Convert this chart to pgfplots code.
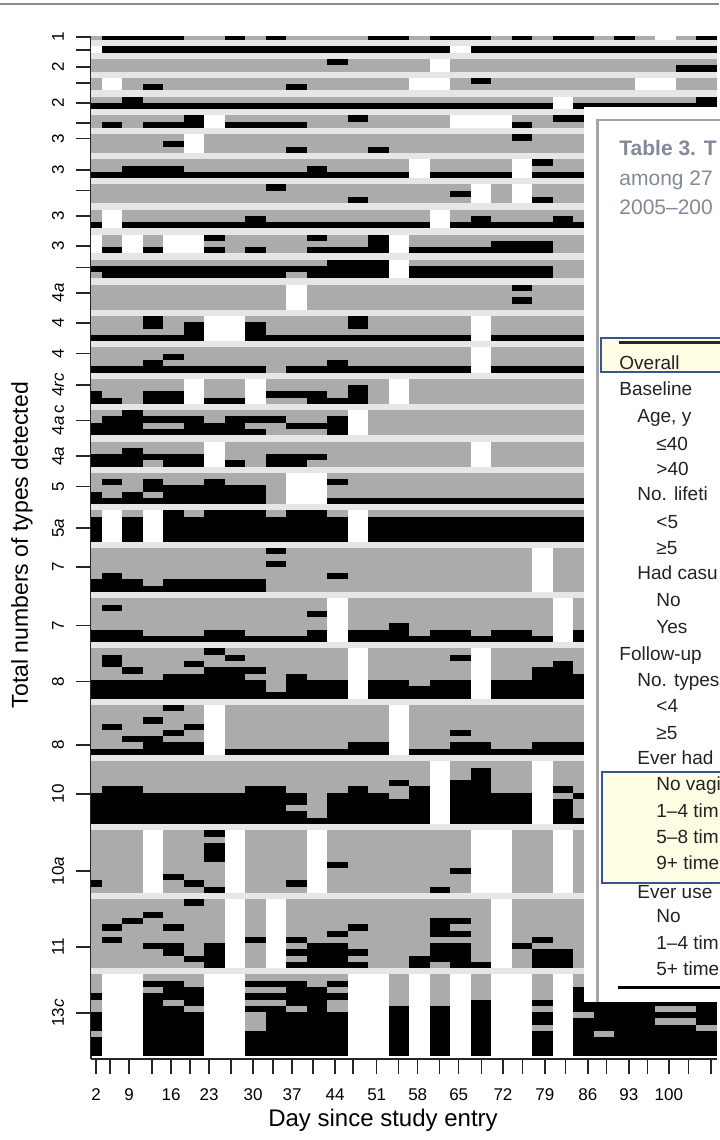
\documentclass[border=0pt]{standalone}
\usepackage{fontspec}
\setmainfont{Liberation Sans}
\usepackage{pgfplots}
\usepackage{pgfplotstable}
\pgfplotsset{compat=1.18}
\definecolor{cgray}{RGB}{171,171,171}
\definecolor{csep}{RGB}{230,230,230}
\definecolor{ttl}{RGB}{128,138,152}
\definecolor{txt}{RGB}{35,35,35}
\definecolor{hl}{RGB}{255,253,228}
\definecolor{hlb}{RGB}{55,85,145}
\definecolor{frm}{RGB}{165,165,165}
\definecolor{topl}{RGB}{140,140,140}
\pgfdeclareplotmark{cell}{\pgfpathrectangle{\pgfqpoint{-5.2pt}{-1.6pt}}{\pgfqpoint{10.4pt}{3.2pt}}\pgfusepathqfill}
% 0 = not tested (white), 1 = negative (gray), 2 = positive (black), 3 = separator
\pgfplotstableread[header=false]{
1 2 2 2 2  1 1 2 1 2  1 1 1 1 2  2 1 2 2 2  1 2 1 2 2  1 2 1 0 1  2
3 3 3 3 3  3 3 3 3 3  3 3 3 3 3  3 3 3 3 3  3 3 3 3 3  3 3 3 3 3  3
0 2 2 2 2  2 2 2 2 2  2 2 2 2 2  2 2 2 0 2  2 2 2 2 2  2 2 2 2 2  2
3 3 3 3 3  3 3 3 3 3  3 3 3 3 3  3 3 3 3 3  3 3 3 3 3  3 3 3 3 3  3
1 1 1 1 1  1 1 1 1 1  1 1 2 1 1  1 1 0 1 1  1 1 1 1 1  1 1 1 1 1  1
1 1 1 1 1  1 1 1 1 1  1 1 1 1 1  1 1 0 1 1  1 1 1 1 1  1 1 1 1 2  2
3 3 3 3 3  3 3 3 3 3  3 3 3 3 3  3 3 3 3 3  3 3 3 3 3  3 3 3 3 3  3
1 0 1 1 1  1 1 1 1 1  1 1 1 1 1  1 0 0 1 2  1 1 1 1 1  1 1 0 0 1  1
1 0 1 2 1  1 1 1 1 1  2 1 1 1 1  1 0 0 1 1  1 1 1 1 1  1 1 0 0 1  1
3 3 3 3 3  3 3 3 3 3  3 3 3 3 3  3 3 3 3 3  3 3 3 3 3  3 3 3 3 3  3
1 1 2 1 1  1 1 1 1 1  1 1 1 1 1  1 1 1 1 1  1 1 1 0 1  1 1 1 1 1  2
2 2 2 2 2  2 2 2 2 2  2 2 2 2 2  2 2 2 2 2  2 2 2 0 2  2 2 2 2 2  2
3 3 3 3 3  3 3 3 3 3  3 3 3 3 3  3 3 3 3 3  3 3 3 3 3  3 3 3 3 3  3
1 1 1 1 1  2 0 1 1 1  1 1 1 2 1  1 1 1 0 0  0 1 1 2 2  1 1 1 1 1  1
1 2 1 2 2  2 0 2 2 2  2 1 1 1 1  1 1 1 0 0  0 2 1 1 1  1 1 1 1 1  1
3 3 3 3 3  3 3 3 3 3  3 3 3 3 3  3 3 3 3 3  3 3 3 3 3  3 3 3 3 3  3
1 1 1 1 1  0 1 1 1 1  1 1 1 1 1  1 1 1 1 1  1 2 1 1 1  1 1 1 1 1  1
1 1 1 1 2  0 1 1 1 1  1 1 1 1 1  1 1 1 1 1  1 1 1 1 1  1 1 1 1 1  1
1 1 1 1 1  0 1 1 1 1  2 1 1 1 2  1 1 1 1 1  1 1 1 1 1  1 1 1 1 1  1
3 3 3 3 3  3 3 3 3 3  3 3 3 3 3  3 3 3 3 3  3 3 3 3 3  3 3 3 3 3  3
1 1 1 1 1  1 1 1 1 1  1 1 1 1 1  1 0 1 1 1  1 0 2 1 1  1 1 1 1 1  1
1 1 2 2 2  1 1 1 1 1  1 2 1 1 1  1 0 1 1 1  1 0 1 1 1  1 1 1 1 1  1
2 2 2 2 2  2 2 2 2 2  2 2 2 2 2  2 0 2 2 2  2 0 2 2 2  1 1 1 1 1  1
3 3 3 3 3  3 3 3 3 3  3 3 3 3 3  3 3 3 3 3  3 3 3 3 3  3 3 3 3 3  3
1 1 1 1 1  1 1 1 1 2  1 1 1 1 1  1 1 1 1 0  1 0 1 1 1  1 1 1 1 1  1
1 1 1 1 1  1 1 1 1 1  1 1 1 1 1  1 1 1 2 0  1 0 1 1 1  1 1 1 1 1  1
1 1 1 1 1  1 1 1 1 1  1 1 1 2 1  1 1 1 1 0  1 0 2 1 1  1 1 1 1 1  1
3 3 3 3 3  3 3 3 3 3  3 3 3 3 3  3 3 3 3 3  3 3 3 3 3  3 3 3 3 3  3
1 0 1 1 1  1 1 1 1 1  1 1 1 1 1  1 1 0 1 1  1 1 1 1 1  1 1 1 1 1  1
1 0 1 1 1  1 1 1 2 1  1 1 1 1 1  1 1 0 1 2  1 1 1 2 1  1 1 1 1 1  1
2 0 2 2 2  2 2 2 2 2  2 2 2 2 2  2 2 0 2 2  2 2 2 2 2  1 1 1 1 1  1
3 3 3 3 3  3 3 3 3 3  3 3 3 3 3  3 3 3 3 3  3 3 3 3 3  3 3 3 3 3  3
0 1 0 1 0  0 2 1 1 1  1 2 1 1 2  0 1 1 1 1  1 1 1 1 1  1 1 1 1 1  1
0 1 0 1 0  0 1 1 1 1  1 1 1 1 2  0 1 1 1 1  2 2 2 1 1  1 1 1 1 1  1
0 2 0 2 0  0 2 1 2 1  1 2 2 2 2  0 2 2 2 2  2 2 2 1 1  1 1 1 1 1  1
3 3 3 3 3  3 3 3 3 3  3 3 3 3 3  3 3 3 3 3  3 3 3 3 3  3 3 3 3 3  3
1 1 1 1 1  1 1 1 1 1  1 1 2 2 2  0 1 1 1 1  1 1 1 1 1  1 1 1 1 1  1
2 2 2 2 2  2 2 2 2 2  2 2 2 2 2  0 2 2 2 2  2 2 2 1 1  1 1 1 1 1  1
1 2 2 2 2  2 2 2 2 2  1 2 2 2 2  0 2 2 2 2  2 2 2 1 1  1 1 1 1 1  1
3 3 3 3 3  3 3 3 3 3  3 3 3 3 3  3 3 3 3 3  3 3 3 3 3  3 3 3 3 3  3
1 1 1 1 1  1 1 1 1 1  0 1 1 1 1  1 1 1 1 1  1 2 1 1 1  1 1 1 1 1  1
1 1 1 1 1  1 1 1 1 1  0 1 1 1 1  1 1 1 1 1  1 1 1 1 1  1 1 1 1 1  1
1 1 1 1 1  1 1 1 1 1  0 1 1 1 1  1 1 1 1 1  1 2 1 1 1  1 1 1 1 1  1
1 1 1 1 1  1 1 1 1 1  0 1 1 1 1  1 1 1 1 1  1 1 1 1 1  1 1 1 1 1  1
3 3 3 3 3  3 3 3 3 3  3 3 3 3 3  3 3 3 3 3  3 3 3 3 3  3 3 3 3 3  3
1 1 1 2 1  1 0 0 1 1  1 1 1 2 1  1 1 1 1 0  1 1 1 1 1  1 1 1 1 1  1
1 1 1 2 1  2 0 0 2 1  1 1 1 2 1  1 1 1 1 0  1 1 1 1 1  1 1 1 1 1  1
1 1 1 1 1  2 0 0 2 1  1 1 1 1 1  1 1 1 1 0  1 1 1 1 1  1 1 1 1 1  1
2 2 2 2 2  2 0 0 2 2  2 2 2 2 2  2 2 2 2 0  2 2 2 2 2  1 1 1 1 1  1
3 3 3 3 3  3 3 3 3 3  3 3 3 3 3  3 3 3 3 3  3 3 3 3 3  3 3 3 3 3  3
1 1 1 1 1  1 1 1 1 1  1 1 1 1 1  1 1 1 1 0  1 1 1 1 1  1 1 1 1 1  1
1 1 1 1 2  1 1 1 1 1  1 1 1 1 1  1 1 1 1 0  1 1 1 1 1  1 1 1 1 1  1
1 1 1 2 1  1 1 1 1 1  1 1 2 1 1  1 1 1 1 0  1 1 1 1 1  1 1 1 1 1  1
2 2 2 2 2  2 2 2 2 1  2 2 2 2 2  2 2 2 2 0  2 2 2 2 2  1 1 1 1 1  1
3 3 3 3 3  3 3 3 3 3  3 3 3 3 3  3 3 3 3 3  3 3 3 3 3  3 3 3 3 3  3
1 1 1 1 1  0 1 1 0 1  1 1 1 1 1  0 1 1 1 1  1 1 1 1 1  1 1 1 1 1  1
1 1 1 1 1  0 1 1 0 1  1 1 1 2 1  0 1 1 1 1  1 1 1 1 1  1 1 1 1 1  1
2 1 1 2 2  0 1 1 0 2  2 2 1 2 1  0 1 1 1 1  1 1 1 1 1  1 1 1 1 1  1
2 2 1 2 2  0 2 2 0 1  1 2 2 2 1  0 1 1 1 1  1 1 1 1 1  1 1 1 1 1  1
3 3 3 3 3  3 3 3 3 3  3 3 3 3 3  3 3 3 3 3  3 3 3 3 3  3 3 3 3 3  3
1 1 2 1 1  1 1 1 1 1  1 1 1 0 1  1 1 1 1 1  1 1 1 1 1  1 1 1 1 1  1
1 2 2 2 2  2 1 2 2 2  1 1 2 0 1  1 1 1 1 1  1 1 1 1 1  1 1 1 1 1  1
2 2 2 1 1  2 2 2 1 1  2 2 2 0 1  1 1 1 1 1  1 1 1 1 1  1 1 1 1 1  1
2 2 2 2 2  2 2 2 2 1  1 1 2 0 1  1 1 1 1 1  1 1 1 1 1  1 1 1 1 1  1
3 3 3 3 3  3 3 3 3 3  3 3 3 3 3  3 3 3 3 3  3 3 3 3 3  3 3 3 3 3  3
1 1 1 1 1  1 0 1 1 1  1 1 1 1 1  1 1 1 1 0  1 1 1 1 1  1 1 1 1 1  1
1 1 2 1 1  1 0 1 1 1  1 1 1 1 1  1 1 1 1 0  1 1 1 1 1  1 1 1 1 1  1
2 2 2 2 2  2 0 1 1 2  2 2 1 1 1  1 1 1 1 0  1 1 1 1 1  1 1 1 1 1  1
2 2 2 1 2  2 0 2 1 2  2 1 1 1 1  1 1 1 1 0  1 1 1 1 1  1 1 1 1 1  1
3 3 3 3 3  3 3 3 3 3  3 3 3 3 3  3 3 3 3 3  3 3 3 3 3  3 3 3 3 3  3
1 1 1 1 1  1 1 1 1 1  0 0 1 1 1  1 1 1 1 1  1 1 1 1 1  1 1 1 1 1  1
1 2 1 2 1  1 2 1 1 1  0 0 2 1 1  1 1 1 1 1  1 1 1 1 1  1 1 1 1 1  1
1 1 1 2 2  2 2 2 2 1  0 0 1 1 1  1 1 1 1 1  1 1 1 1 1  1 1 1 1 1  1
2 1 2 1 2  2 2 2 2 1  0 0 1 1 1  1 1 1 1 1  1 1 1 1 1  1 1 1 1 1  1
2 2 2 2 2  2 2 2 2 1  0 0 2 2 2  2 2 2 2 2  2 2 2 2 2  1 1 1 1 1  1
3 3 3 3 3  3 3 3 3 3  3 3 3 3 3  3 3 3 3 3  3 3 3 3 3  3 3 3 3 3  3
1 0 1 0 2  1 2 2 2 1  2 2 1 0 1  1 1 1 1 1  1 1 1 1 1  1 1 1 1 1  1
2 0 2 0 2  2 2 2 2 2  2 2 2 0 2  2 2 2 2 2  2 2 2 2 2  1 1 1 1 1  1
2 0 2 0 2  2 2 2 2 2  2 2 2 0 2  2 2 2 2 2  2 2 2 2 2  1 1 1 1 1  1
2 0 2 0 2  2 2 2 2 2  2 2 2 0 2  2 2 2 2 2  2 2 2 2 2  1 1 1 1 1  1
2 0 2 0 2  2 2 2 2 2  2 2 2 0 2  2 2 2 2 2  2 2 2 2 2  1 1 1 1 1  1
3 3 3 3 3  3 3 3 3 3  3 3 3 3 3  3 3 3 3 3  3 3 3 3 3  3 3 3 3 3  3
1 1 1 1 1  1 1 1 1 2  1 1 1 1 1  1 1 1 1 1  1 1 0 1 1  1 1 1 1 1  1
1 1 1 1 1  1 1 1 1 1  1 1 1 1 1  1 1 1 1 1  1 1 0 1 1  1 1 1 1 1  1
1 1 1 1 1  1 1 1 1 2  1 1 1 1 1  1 1 1 1 1  1 1 0 1 1  1 1 1 1 1  1
1 1 1 1 1  1 1 1 1 1  1 1 1 1 1  1 1 1 1 1  1 1 0 1 1  1 1 1 1 1  1
1 2 1 1 1  1 1 1 1 1  1 1 2 1 1  1 1 1 1 1  1 1 0 1 1  1 1 1 1 1  1
2 2 2 1 2  2 2 2 2 1  1 1 1 1 1  1 1 1 1 1  1 1 0 1 1  1 1 1 1 1  1
2 2 2 2 2  2 2 2 2 1  1 1 1 1 1  1 1 1 1 1  1 1 0 1 1  1 1 1 1 1  1
3 3 3 3 3  3 3 3 3 3  3 3 3 3 3  3 3 3 3 3  3 3 3 3 3  3 3 3 3 3  3
1 1 1 1 1  1 1 1 1 1  1 1 0 1 1  1 1 1 1 1  1 1 1 0 1  1 1 1 1 1  1
1 2 1 1 1  1 1 1 1 1  1 1 0 1 1  1 1 1 1 1  1 1 1 0 1  1 1 1 1 1  1
1 1 1 1 1  1 1 1 1 1  1 2 0 1 1  1 1 1 1 1  1 1 1 0 1  1 1 1 1 1  1
1 1 1 1 1  1 1 1 1 1  1 1 0 1 1  1 1 1 1 1  1 1 1 0 1  1 1 1 1 1  1
1 1 1 1 1  1 1 1 1 1  1 1 0 1 1  2 1 1 1 1  1 1 1 0 1  1 1 1 1 1  1
2 2 2 1 1  1 2 2 1 1  1 2 0 2 2  2 1 2 2 1  2 2 1 0 2  1 1 1 1 1  1
2 2 2 2 2  2 2 2 2 2  2 2 0 2 2  2 2 2 2 2  2 2 2 0 2  1 1 1 1 1  1
3 3 3 3 3  3 3 3 3 3  3 3 3 3 3  3 3 3 3 3  3 3 3 3 3  3 3 3 3 3  3
1 1 1 1 1  1 2 1 1 1  1 1 1 0 1  1 1 1 1 0  1 1 1 1 1  1 1 1 1 1  1
1 2 1 1 1  1 1 2 1 1  1 1 1 0 1  1 1 1 2 0  1 1 1 1 1  1 1 1 1 1  1
1 2 1 1 1  2 1 1 1 1  1 1 1 0 1  1 1 1 1 0  1 1 1 2 1  1 1 1 1 1  1
1 1 2 1 1  1 2 2 2 1  1 1 1 0 1  1 1 1 1 0  1 1 2 2 1  1 1 1 1 1  1
1 1 1 1 2  2 2 2 1 1  2 1 1 0 1  1 1 1 1 0  1 1 2 2 2  1 1 1 1 1  1
2 2 2 2 2  2 2 2 2 1  2 2 2 0 2  2 1 2 2 0  2 2 2 2 2  1 1 1 1 1  1
2 2 2 2 2  2 2 2 2 1  2 2 2 0 2  2 2 2 2 0  2 2 2 2 2  1 1 1 1 1  1
2 2 2 2 2  2 2 2 2 2  2 2 2 0 2  2 2 2 2 0  2 2 2 2 2  1 1 1 1 1  1
3 3 3 3 3  3 3 3 3 3  3 3 3 3 3  3 3 3 3 3  3 3 3 3 3  3 3 3 3 3  3
1 1 1 1 2  1 0 1 1 1  1 1 1 1 1  0 1 1 1 1  1 1 1 1 1  1 1 1 1 1  1
1 1 1 1 1  1 0 1 1 1  1 1 1 1 1  0 1 1 1 1  1 1 1 1 1  1 1 1 1 1  1
1 1 1 2 1  1 0 1 1 1  1 1 1 1 1  0 1 1 1 1  1 1 1 1 1  1 1 1 1 1  1
1 2 1 1 1  2 0 1 1 1  1 1 1 1 1  0 1 1 1 1  1 1 1 1 1  1 1 1 1 1  1
1 1 1 1 2  1 0 1 1 1  1 1 1 1 1  0 1 1 2 1  1 1 1 1 1  1 1 1 1 1  1
1 1 2 2 1  1 0 1 1 1  1 1 1 1 1  0 1 1 1 1  1 1 1 1 1  1 1 1 1 1  1
1 1 1 2 2  2 0 1 1 1  1 1 1 2 2  0 1 1 2 2  1 1 2 2 2  1 1 1 1 1  1
2 2 2 2 2  2 0 2 2 2  2 2 2 2 2  0 2 2 2 2  2 2 2 2 2  1 1 1 1 1  1
3 3 3 3 3  3 3 3 3 3  3 3 3 3 3  3 3 3 3 3  3 3 3 3 3  3 3 3 3 3  3
1 1 1 1 1  1 1 1 1 1  1 1 1 1 1  1 1 0 1 1  1 1 0 1 1  1 1 1 1 1  1
1 1 1 1 1  1 1 1 1 1  1 1 1 1 1  1 1 0 1 2  1 1 0 1 1  1 1 1 1 1  1
1 1 1 1 1  1 1 1 1 1  1 1 1 1 1  1 1 0 1 2  1 1 0 1 1  1 1 1 1 1  1
1 1 1 1 1  1 1 1 1 1  1 1 1 1 1  2 1 0 2 2  1 1 0 1 1  1 1 1 1 1  1
1 2 2 1 1  1 1 1 2 2  1 1 1 2 1  1 2 0 2 2  1 1 0 2 1  1 1 1 1 1  1
2 2 2 2 2  2 2 2 2 2  2 1 2 2 2  1 2 0 2 2  2 2 0 1 2  1 1 1 1 1  1
2 2 2 2 2  2 2 2 2 2  2 1 2 2 2  2 2 0 2 2  2 2 0 2 1  1 1 1 1 1  1
2 2 2 2 2  2 2 2 2 2  1 1 2 2 2  2 2 0 2 2  2 2 0 2 1  1 1 1 1 1  1
2 2 2 2 2  2 2 2 2 2  2 1 2 2 2  2 2 0 2 2  2 2 0 2 1  1 1 1 1 1  1
2 2 2 2 2  2 2 2 2 2  2 2 2 2 2  2 2 0 2 2  2 2 0 2 2  1 1 1 1 1  1
3 3 3 3 3  3 3 3 3 3  3 3 3 3 3  3 3 3 3 3  3 3 3 3 3  3 3 3 3 3  3
1 1 1 0 1  1 2 0 1 1  1 0 1 1 1  1 1 1 1 0  0 1 1 0 1  1 1 1 1 1  1
1 1 1 0 1  1 1 0 1 1  1 0 1 1 1  1 1 1 1 0  0 1 1 0 1  1 1 1 1 1  1
1 1 1 0 1  1 2 0 1 1  1 0 1 1 1  1 1 1 1 0  0 1 1 0 1  1 1 1 1 1  1
1 1 1 0 1  1 2 0 1 1  1 0 1 1 1  1 1 1 1 0  0 1 1 0 1  1 1 1 1 1  1
1 1 1 0 1  1 2 0 1 1  1 0 1 1 1  1 1 1 1 0  0 1 1 0 1  1 1 1 1 1  1
1 1 1 0 1  1 1 0 1 1  1 0 2 1 1  1 1 1 1 0  0 1 1 0 1  1 1 1 1 1  1
1 1 1 0 1  1 1 0 1 1  1 0 1 1 1  1 1 1 2 0  0 1 1 0 1  1 1 1 1 1  1
1 1 1 0 2  1 1 0 1 1  1 0 1 1 1  1 1 1 1 0  0 1 1 0 1  1 1 1 1 1  1
2 1 1 0 1  2 1 0 1 1  2 0 1 1 1  1 1 1 1 0  0 1 1 0 1  1 1 1 1 1  1
1 1 1 0 1  1 2 0 1 1  1 0 1 1 1  1 1 2 1 0  0 1 1 0 1  1 1 1 1 1  1
3 3 3 3 3  3 3 3 3 3  3 3 3 3 3  3 3 3 3 3  3 3 3 3 3  3 3 3 3 3  3
1 1 1 1 1  2 1 0 1 0  1 1 1 1 1  1 1 1 1 1  0 1 1 1 1  1 1 1 1 1  1
1 1 1 1 1  1 1 0 1 0  1 1 1 1 1  1 1 1 1 1  0 1 1 1 1  1 1 1 1 1  1
1 1 1 2 1  1 1 0 1 0  1 1 1 1 1  1 1 1 1 1  0 1 1 1 1  1 1 1 1 1  1
1 1 2 1 1  1 1 0 1 0  1 1 1 1 1  1 1 2 2 1  0 1 1 1 1  1 1 1 1 1  1
1 2 1 1 2  1 1 0 1 0  1 1 1 2 1  1 1 2 1 1  0 1 1 1 1  1 1 1 1 1  1
1 1 1 1 1  1 1 0 1 0  1 1 2 1 1  1 1 2 2 1  0 1 1 1 1  1 1 1 1 1  1
1 2 1 1 1  1 1 0 2 0  2 1 1 1 1  1 1 1 1 1  0 1 2 1 1  1 1 1 1 1  1
1 1 1 2 2  1 2 0 1 0  1 2 2 1 1  1 1 2 2 1  0 2 1 1 1  1 1 1 1 1  1
1 1 1 1 2  1 2 0 1 0  2 2 2 2 1  1 1 2 2 1  0 1 2 2 1  1 1 1 1 1  1
1 1 1 1 1  2 2 0 1 0  1 2 2 1 1  1 2 2 2 1  0 1 2 2 1  1 1 1 1 1  1
1 1 1 1 1  1 2 0 1 0  2 2 2 2 1  1 2 1 2 2  0 1 2 2 1  1 1 1 1 1  1
3 3 3 3 3  3 3 3 3 3  3 3 3 3 3  3 3 3 3 3  3 3 3 3 3  3 3 3 3 3  3
1 0 0 1 1  1 0 0 1 1  1 1 1 0 0  1 0 1 0 1  0 0 1 0 1  1 1 1 1 1  1
1 0 0 2 2  1 0 0 2 2  2 1 2 0 0  1 0 1 0 1  0 0 1 0 1  1 1 1 1 1  1
1 0 0 1 2  2 0 0 1 1  2 2 1 0 0  1 0 1 0 1  0 0 1 0 2  1 1 1 1 1  1
2 0 0 2 2  2 0 0 2 2  2 2 2 0 0  1 0 1 0 1  0 0 1 0 2  1 1 1 1 1  1
1 0 0 2 1  2 0 0 1 1  2 2 1 0 0  1 0 1 0 2  0 0 2 0 2  2 2 2 2 2  2
1 0 0 2 2  1 0 0 2 2  1 2 1 0 0  2 0 2 0 2  0 0 1 0 2  2 2 2 1 1  2
2 0 0 2 2  2 0 0 1 2  2 2 2 0 0  2 0 2 0 2  0 0 2 0 1  2 2 2 2 2  2
2 0 0 2 2  2 0 0 1 2  2 2 2 0 0  2 0 2 0 2  0 0 2 0 2  2 2 2 1 1  2
2 0 0 2 2  2 0 0 1 2  2 2 2 0 0  2 0 2 0 2  0 0 1 0 2  2 2 2 2 2  1
1 0 0 2 2  2 0 0 2 2  2 2 2 0 0  2 0 2 0 2  0 0 2 0 2  1 2 2 2 2  2
2 0 0 2 2  2 0 0 2 2  2 2 2 0 0  2 0 2 0 2  0 0 2 0 2  2 2 2 2 2  2
2 0 0 2 2  2 0 0 2 2  2 2 2 0 0  2 0 2 0 2  0 0 2 0 2  2 2 2 2 2  2
2 0 0 2 2  2 0 0 2 2  2 2 2 0 0  2 0 2 0 2  0 0 2 0 2  2 2 2 2 2  2
3 3 3 3 3  3 3 3 3 3  3 3 3 3 3  3 3 3 3 3  3 3 3 3 3  3 3 3 3 3  3
}\cells

\begin{document}
\begin{tikzpicture}
\path[use as bounding box] (0pt,0pt) rectangle (359.5pt,-570pt);
\begin{axis}[
  at={(45.5pt,-18.25pt)}, anchor=north west,
  scale only axis, width=313pt, height=511.25pt,
  xmin=-0.037, xmax=30.5, ymin=0.4, ymax=163.47, y dir=reverse,
  axis x line*=bottom, axis y line*=left,
  axis line style={line width=0.8pt, black!85},
  clip marker paths=true,
  tick align=outside, major tick length=7.5pt,
  tick style={line width=0.7pt, black!85},
  /pgf/number format/assume math mode=true,
  tick label style={font=\fontsize{8.5}{10}\selectfont},
  xtick={0.21,0.89,1.82,2.94,3.87,4.79,5.72,6.79,7.87,8.84,9.77,10.79,11.87,12.74,13.9,14.97,15.9,16.97,17.9,19.0,20.06,21.0,22.1,23.1,24.2,25.1,26.2,27.1,28.15,29.1,30.2},
  xticklabels={2,{},9,{},16,{},23,{},30,{},37,{},44,{},51,{},58,{},65,{},72,{},79,{},86,{},93,{},100,{},{}},
  xticklabel style={yshift=-4pt},
  ytick={0.48,2.55,5.26,7.8,11,14.2,16.7,21.7,25,29,33.8,37.2,41.3,46.1,51,56,61.6,67.3,72.2,78.8,85,94.3,103.3,113.4,121.2,133.5,145.6,156.1},
  yticklabels={1,{},2,{},2,{},3,3,{},3,3,{},4\textit{a},4,4,4\textit{rc},4\textit{a}\,c,4\textit{a},5,5\textit{a},7,7,8,8,10,10\textit{a},11,13\textit{c}},
  yticklabel style={xshift=-2.5pt, rotate=90, anchor=south},
]
\pgfplotsinvokeforeach{0,...,30}{
  \addplot[scatter, only marks, mark=cell, point meta=explicit symbolic,
    scatter/classes={0={fill=white},1={fill=cgray},2={fill=black},3={fill=csep}}]
    table[x expr=#1, y expr=\coordindex+0.5, meta index=#1] {\cells};
}
\end{axis}
\begin{scope}[x=0.5pt,y=-0.5pt]
\draw[topl, line width=1pt] (0,4) -- (719,4);
\node[font=\fontsize{12}{14}\selectfont] at (383,1120) {Day since study entry};
\node[rotate=90, font=\fontsize{11.5}{14}\selectfont] at (22,545) {Total numbers of types detected};
% overlaid table
\fill[white] (584,107) rectangle (725,1002);
\draw[frm, line width=1.25pt] (597.5,1002) -- (597.5,120) -- (725,120);
\begin{scope}[every node/.style={anchor=base west, inner sep=0pt}]
\node[font=\fontsize{10.5}{12}\selectfont\bfseries, text=ttl] at (619,155) {Table 3. T};
\node[font=\fontsize{10.5}{12}\selectfont, text=ttl] at (619,185) {among 27};
\node[font=\fontsize{10.5}{12}\selectfont, text=ttl] at (619,214) {2005–200};
\end{scope}
\filldraw[fill=hl, draw=hlb, line width=0.8pt] (601,338) rectangle (725,372);
\filldraw[fill=hl, draw=hlb, line width=0.8pt] (602,772) rectangle (725,883);
\draw[black!85, line width=1.2pt] (619,342.5) -- (725,342.5);
\draw[black, line width=1.5pt] (618,987.5) -- (725,987.5);
\begin{scope}[every node/.style={anchor=base west, inner sep=0pt, text=txt, font=\fontsize{9.5}{11}\selectfont}]
\node at (619,369) {Overall};
\node at (619,395) {Baseline};
\node at (637,422) {Age, y};
\node at (656,450) {≤40};
\node at (656,475) {>40};
\node at (637,500) {No. lifeti};
\node at (656,528) {<5};
\node at (656,554) {≥5};
\node at (637,579) {Had casu};
\node at (656,606) {No};
\node at (656,633) {Yes};
\node at (619,660) {Follow-up};
\node at (637,686) {No. types};
\node at (656,712) {<4};
\node at (656,739) {≥5};
\node at (637,764) {Ever had};
\node at (656,790) {No vagi};
\node at (656,817) {1–4 tim};
\node at (656,843) {5–8 tim};
\node at (656,869) {9+ time};
\node at (637,898) {Ever use};
\node at (656,922) {No};
\node at (656,949) {1–4 tim};
\node at (656,975) {5+ time};
\end{scope}
\end{scope}
\end{tikzpicture}
\end{document}
